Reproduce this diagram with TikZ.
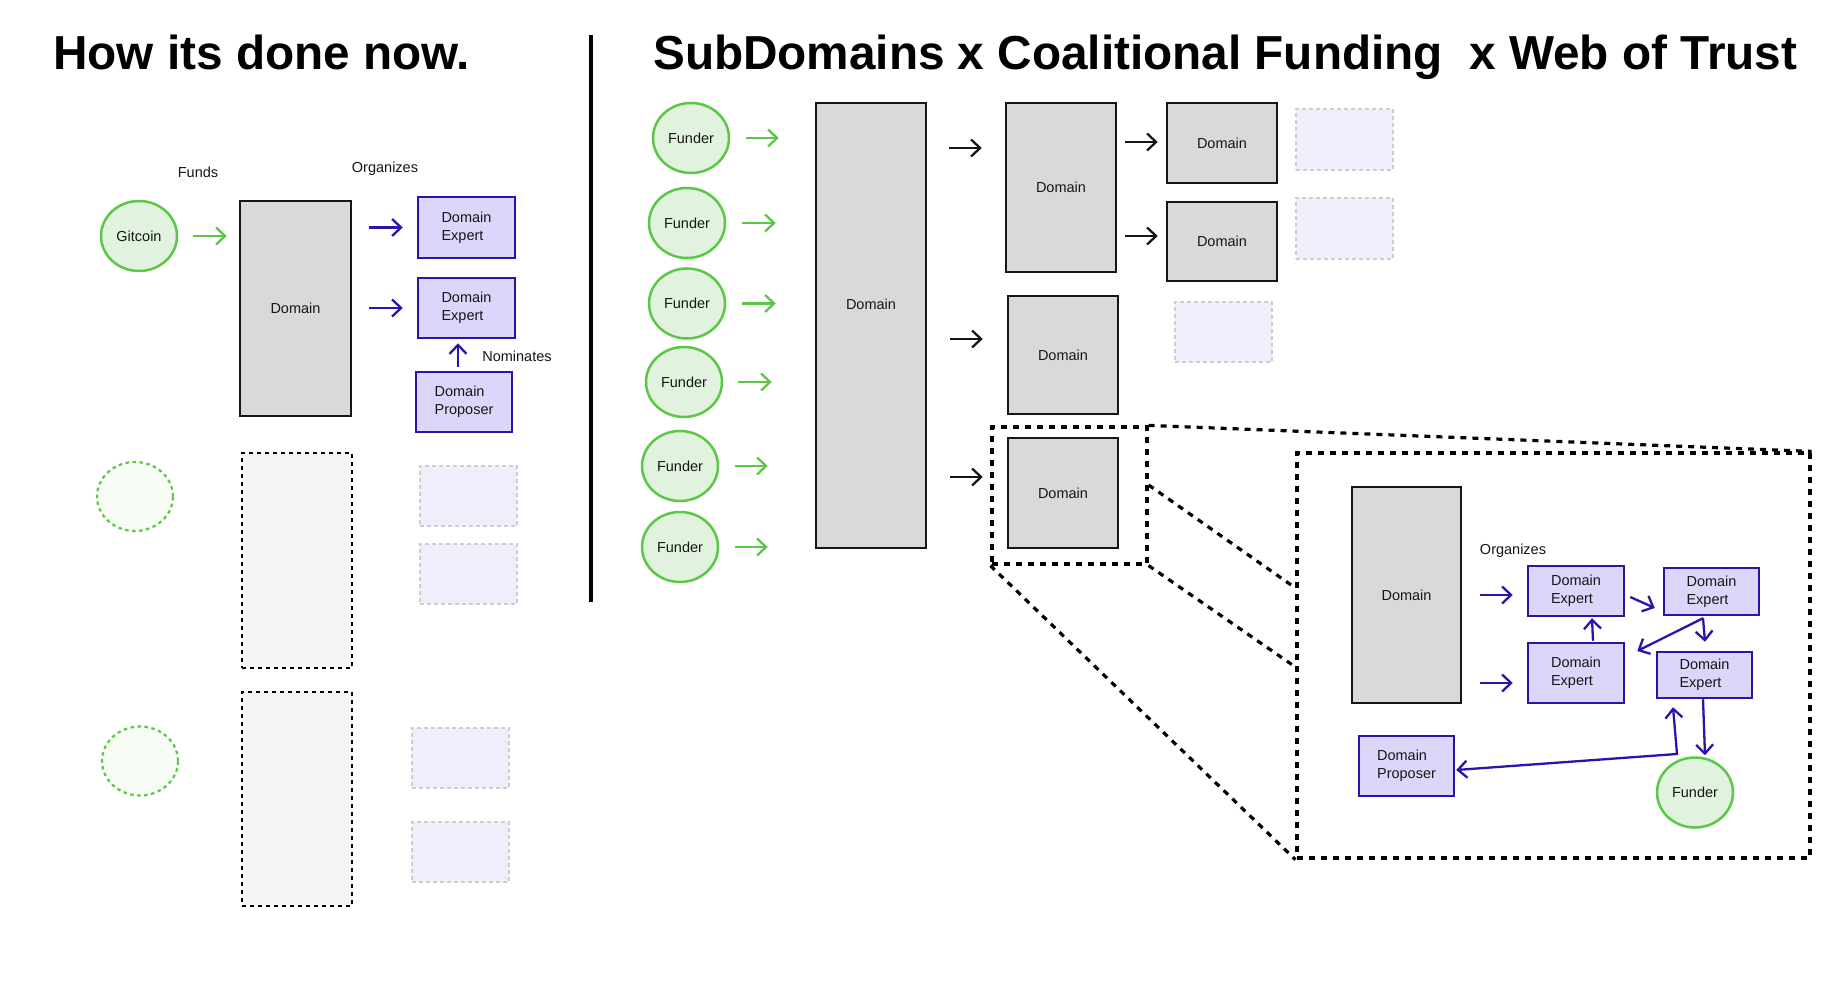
\documentclass[tikz,border=0pt]{standalone}
\usepackage{fontspec}
\setmainfont{Liberation Sans}
\usetikzlibrary{arrows.meta,shapes.geometric,calc}
\definecolor{gstroke}{RGB}{90,200,70}
\definecolor{gfill}{RGB}{225,243,222}
\definecolor{gghost}{RGB}{247,252,245}
\definecolor{bstroke}{RGB}{42,20,172}
\definecolor{bfill}{RGB}{220,214,250}
\definecolor{dgray}{RGB}{217,217,217}
\definecolor{ghostgray}{RGB}{245,245,245}
\definecolor{faintfill}{RGB}{241,238,252}
\definecolor{faintstroke}{RGB}{205,205,205}
\definecolor{ink}{RGB}{22,22,22}
\tikzset{
  vtip/.tip={Straight Barb[length=9pt,width=17pt]},
  sz/.style 2 args={minimum width=#1pt, minimum height=#2pt},
  txt/.style={font=\fontsize{14.5}{18}\selectfont, text=ink, inner sep=0pt},
  titletxt/.style={font=\fontsize{47.7}{55}\selectfont\bfseries, text=black, inner sep=0pt, anchor=base west},
  funder/.style={ellipse, draw=gstroke, fill=gfill, line width=2.5pt, sz={76}{70}, txt},
  ghostcirc/.style={ellipse, draw=gstroke, fill=gghost, line width=2.2pt, dash pattern=on 3.5pt off 3.5pt, sz={76}{69}},
  dombox/.style={rectangle, draw=ink, fill=dgray, line width=2.5pt, txt},
  expbox/.style={rectangle, draw=bstroke, fill=bfill, line width=2.5pt, align=left, txt},
  ghostdom/.style={rectangle, draw=black, fill=ghostgray, line width=2pt, dash pattern=on 4pt off 4pt},
  faint/.style={rectangle, draw=faintstroke, fill=faintfill, line width=1.6pt, dash pattern=on 4pt off 3pt},
  zoomline/.style={draw=black, line width=3.2pt, dash pattern=on 6pt off 6pt},
  garrow/.style={draw=gstroke, line width=2.3pt, -vtip},
  barrow/.style={draw=bstroke, line width=2.3pt, -vtip},
  karrow/.style={draw=ink, line width=2.3pt, -vtip},
}
\begin{document}
\begin{tikzpicture}[x=1pt,y=-1pt]
\useasboundingbox[fill=white] (0,0) rectangle (1840,984);

% ---------- titles and separator ----------
\node[titletxt] (t1) at (53,69.5) {How its done now.};
\node[titletxt] (t2) at (653,69.5) {SubDomains x Coalitional Funding\ \ x Web of Trust};
\coordinate (s1) at (591,35);
\coordinate (s2) at (591,602);
\draw[line width=3.6pt] (s1) -- (s2);

% ---------- left: how it is done now ----------
\node[txt] (funds) at (198,172) {Funds};
\node[txt] (org1) at (385,169) {Organizes};
\node[funder] (gitcoin) at (139,236) {Gitcoin};
\node[dombox, sz={111}{215}] (dom0) at (295.5,308.5) {Domain};
\node[expbox, sz={97}{61}] (deA) at (466.5,227.5) {Domain\\Expert};
\node[expbox, sz={97}{60}] (deB) at (466.5,308) {Domain\\Expert};
\node[expbox, sz={96}{60}] (dp0) at (464,402) {Domain\\Proposer};
\node[txt] (nom) at (517,356) {Nominates};

\draw[garrow, shorten <=15pt, shorten >=12pt] (gitcoin.east) -- (gitcoin.east -| dom0.west);
\draw[barrow, shorten <=17pt, shorten >=14pt] (dom0.east |- deA.west) -- (deA.west);
\draw[barrow, shorten <=17pt, shorten >=14pt] (dom0.east |- deB.west) -- (deB.west);
\draw[barrow] ($(dp0.north)+(-6,-4)$) -- ($(deB.south)+(-8.5,4)$);

% ghosts
\node[ghostcirc] (gc1) at (135,496.5) {};
\node[ghostcirc] (gc2) at (140,761) {};
\node[ghostdom, sz={110}{215}] (gr1) at (297,560.5) {};
\node[ghostdom, sz={110}{214}] (gr2) at (297,799) {};
\node[faint, sz={97}{60}] (gp1) at (468.5,496) {};
\node[faint, sz={97}{60}] (gp2) at (468.5,574) {};
\node[faint, sz={97}{60}] (gp3) at (460.5,758) {};
\node[faint, sz={97}{60}] (gp4) at (460.5,852) {};

% ---------- right: subdomains ----------
\node[funder] (f1) at (691,138) {Funder};
\node[funder] (f2) at (687,223) {Funder};
\node[funder] (f3) at (687,303.5) {Funder};
\node[funder] (f4) at (684,382) {Funder};
\node[funder] (f5) at (680,466) {Funder};
\node[funder] (f6) at (680,547) {Funder};

\node[dombox, sz={110}{445}, label={[txt, yshift=21.5pt, name=bigtxt]center:Domain}] (big) at (871,325.5) {};

\draw[garrow, shorten <=16pt, shorten >=36pt] (f1.east) -- (f1.east -| big.west);
\draw[garrow, shorten <=16pt, shorten >=39pt] (f2.east) -- (f2.east -| big.west);
\draw[garrow, shorten <=16pt, shorten >=39pt] (f3.east) -- (f3.east -| big.west);
\draw[garrow, shorten <=15pt, shorten >=43pt] (f4.east) -- (f4.east -| big.west);
\draw[garrow, shorten <=16pt, shorten >=47pt] (f5.east) -- (f5.east -| big.west);
\draw[garrow, shorten <=16pt, shorten >=47pt] (f6.east) -- (f6.east -| big.west);

\node[dombox, sz={110}{169}] (A) at (1061,187.5) {Domain};
\node[dombox, sz={110}{80}] (B1) at (1222,143) {Domain};
\node[dombox, sz={110}{79}] (B2) at (1222,241.5) {Domain};
\node[dombox, sz={110}{118}] (C) at (1063,355) {Domain};
\node[dombox, sz={110}{110}] (D) at (1063,493) {Domain};

\draw[karrow] ($(big.east |- A.west)+(22,-39.5)$) -- ($(A.west)+(-23,-39.5)$);
\draw[karrow] ($(big.east |- C.west)+(23,-16)$) -- ($(C.west)+(-24,-16)$);
\draw[karrow] ($(big.east |- D.west)+(23,-16)$) -- ($(D.west)+(-24,-16)$);
\draw[karrow] ($(A.east |- B1.west)+(8,-1)$) -- ($(B1.west)+(-8,-1)$);
\draw[karrow] ($(A.east |- B2.west)+(8,-5.5)$) -- ($(B2.west)+(-8,-5.5)$);

\node[faint, sz={97}{61}] (fr1) at (1344.5,139.5) {};
\node[faint, sz={97}{61}] (fr2) at (1344.5,228.5) {};
\node[faint, sz={97}{60}] (fr3) at (1223.5,332) {};

% ---------- zoom ----------
\node[zoomline, sz={155}{137}] (zs) at (1069.5,495.5) {};
\node[zoomline, sz={513}{405}] (zb) at (1553.5,655.5) {};
\draw[zoomline] (zs.north east) -- (zb.north east);
\draw[zoomline] ($(zs.east)+(0,-10.5)$) -- ($(zb.west)+(0,-67.5)$);
\draw[zoomline] (zs.south east) -- ($(zb.west)+(0,11.5)$);
\draw[zoomline] (zs.south west) -- (zb.south west);

% inner web of trust
\node[dombox, sz={109}{216}] (idom) at (1406.5,595) {Domain};
\node[txt] (org2) at (1513,551) {Organizes};
\node[expbox, sz={96}{50}] (iDE1) at (1576,591) {Domain\\Expert};
\node[expbox, sz={95}{47}] (iDE2) at (1711.5,591.5) {Domain\\Expert};
\node[expbox, sz={96}{60}] (iDE3) at (1576,673) {Domain\\Expert};
\node[expbox, sz={95}{46}] (iDE4) at (1704.5,675) {Domain\\Expert};
\node[expbox, sz={95}{60}] (iDP) at (1406.5,766) {Domain\\Proposer};
\node[funder] (iF) at (1695,792.5) {Funder};

\draw[barrow] ($(idom.east |- iDE1.west)+(18,4)$) -- ($(iDE1.west)+(-14,4)$);
\draw[barrow] ($(idom.east |- iDE3.west)+(18,10)$) -- ($(iDE3.west)+(-14,10)$);
\draw[barrow] ($(iDE1.east)+(5,6)$) -- ($(iDE2.west)+(-8,16.5)$);
\draw[barrow] ($(iDE3.north)+(17,-1)$) -- ($(iDE1.south)+(16,1)$);
\draw[barrow] ($(iDE2.south)+(-8.5,2)$) -- ($(iDE3.east)+(12,-22)$);
\draw[barrow] ($(iDE2.south)+(-8.5,2)$) -- ($(iDE4.north)+(0.5,-9)$);
\draw[barrow] ($(iDE4.south)+(-1.5,0)$) -- ($(iF.north)+(10,-1)$);
\coordinate (corner) at (1677,754);
\draw[barrow, vtip-vtip] ($(iDP.east)+(1,4)$) -- (corner) -- ($(iDE4.south)+(-31.5,8)$);
\end{tikzpicture}
\end{document}
